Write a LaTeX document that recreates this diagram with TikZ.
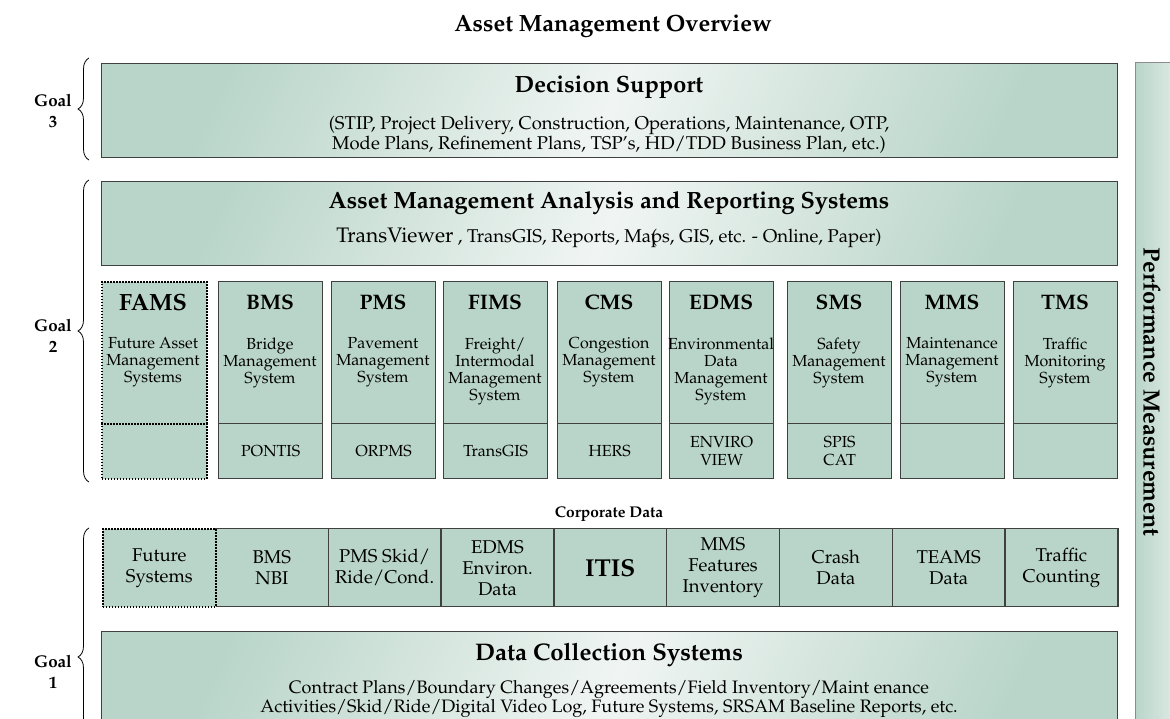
\documentclass[tikz,border=0pt]{standalone}
\usepackage[T1]{fontenc}
\usepackage{mathpazo}
\usetikzlibrary{positioning,decorations.pathreplacing}

\definecolor{sage}{RGB}{185,213,201}
\definecolor{sagelight}{RGB}{240,245,243}
\definecolor{boxline}{RGB}{64,64,64}
\newcommand{\fsz}[2]{\fontsize{#1}{#2}\selectfont}

\begin{document}
\begin{tikzpicture}[x=1pt, y=-1pt]
	\tikzstyle{panel}=[draw=boxline, line width=1.3pt, anchor=north west, inner sep=0pt,
		left color=sage, right color=sage, middle color=sagelight, shading angle=65]
	\tikzstyle{sysbox}=[draw=boxline, line width=1.3pt, fill=sage, anchor=north west, inner sep=0pt]
	\tikzstyle{futurebox}=[sysbox, draw=black, line width=1.8pt, dash pattern=on 1.5pt off 1.5pt]
	\tikzstyle{cell}=[sysbox, minimum width=112.8pt, minimum height=78pt, align=center, font=\fsz{18.5}{21}]
	\tikzstyle{goal}=[font=\fsz{17}{21}\bfseries, align=center]
	\tikzstyle{goalbrace}=[decorate, decoration={brace, amplitude=11pt}, line width=0.8pt]
	\clip (0,0) rectangle (1170,719);
	% % Nodes
	% title
	\node[font=\fsz{23.5}{26}\bfseries] (title) at (613,26) {Asset Management Overview};
	% performance measurement
	\node[draw=boxline!60, line width=1pt, anchor=north west, inner sep=0pt,
		  minimum width=60pt, minimum height=700pt,
		  left color=sage, middle color=sagelight, right color=sagelight, shading angle=90]
	(perf) at (1135,62) {};
	\node[rotate=-90, font=\fsz{23.5}{26}\bfseries] (perftext) at (1152,392) {Performance Measurement};
	% decision support
	\node[panel, minimum width=1016pt, minimum height=94pt] (decision) at (101,63) {};
	\node[font=\fsz{23.5}{26}\bfseries] (decisionhead) at (609,87) {Decision Support};
	\node[font=\fsz{18.5}{17.5}, align=center, anchor=north] (decisiontext) at (609,113)
	{
		(STIP, Project Delivery, Construction, Operations, Maintenance, OTP,\\
		Mode Plans, Refinement Plans, TSP's, HD/TDD Business Plan, etc.)
	};
	% analysis and reporting
	\node[panel, minimum width=1016pt, minimum height=84pt] (analysis) at (101,181) {};
	\node[font=\fsz{23.5}{26}\bfseries] (analysishead) at (609,203) {Asset Management Analysis and Reporting Systems};
	\node[font=\fsz{18.5}{18}] (analysistext) at (609,238)
	{{\fsz{21}{21}TransViewer} , TransGIS, Reports, Ma\rlap{(}ps, GIS, etc. - Online, Paper)};
	% future asset management systems
	\node[futurebox, minimum width=105pt, minimum height=142pt] (famsup) at (101,281) {};
	\node[futurebox, minimum width=105pt, minimum height=55pt] (famslow) at (101,423) {};
	\node[font=\fsz{23.5}{26}\bfseries] (famshead) at (153,302) {FAMS};
	\node[font=\fsz{16}{17}, align=center, anchor=north] (famsdesc) at (153,334)
	{Future Asset\\Management\\Systems};
	% management systems
	\foreach \x/\abbr/\desc/\sub [count=\i] in {
		218/BMS/{Bridge\\Management\\System}/PONTIS,
		331/PMS/{Pavement\\Management\\System}/ORPMS,
		443/FIMS/{Freight/\\Intermodal\\Management\\System}/TransGIS,
		557/CMS/{Congestion\\Management\\System}/HERS,
		669/EDMS/{Environmental\\Data\\Management\\System}/{ENVIRO\\VIEW},
		787/SMS/{Safety\\Management\\System}/{SPIS\\CAT},
		900/MMS/{Maintenance\\Management\\System}/{},
		1013/TMS/{Traffic\\Monitoring\\System}/{}}
	{
		\node[sysbox, minimum width=104pt, minimum height=142pt] (sys\i) at (\x,281) {};
		\node[sysbox, minimum width=104pt, minimum height=55pt, align=center,
			  font=\fsz{16}{18}] (sub\i) at (\x,423) {\sub};
		\node[font=\fsz{21}{23}\bfseries] (abbr\i) at (\x+52,302) {\abbr};
		\node[font=\fsz{16}{17}, align=center, anchor=north] (desc\i) at (\x+52,334) {\desc};
	}
	% corporate data
	\node[font=\fsz{15.5}{17}\bfseries] (corplabel) at (609,514) {Corporate Data};
	\foreach \txt [count=\i] in {
		{BMS\\NBI}, {PMS Skid/\\Ride/Cond.}, {EDMS\\Environ.\\Data},
		{\fsz{24.5}{26}\bfseries ITIS}, {MMS\\Features\\Inventory},
		{Crash\\Data}, {TEAMS\\Data}, {Traffic\\Counting}}
	{
		\node[cell] (corp\i) at (102+112.8*\i,528) {\txt};
	}
	\node[cell, futurebox, align=center, font=\fsz{18.5}{21}] (corp0) at (102,528) {Future\\Systems};
	% data collection
	\node[panel, minimum width=1016pt, minimum height=120pt] (collection) at (101,631) {};
	\node[font=\fsz{24}{26}\bfseries] (collectionhead) at (609,655) {Data Collection Systems};
	\node[font=\fsz{18}{18}, align=center, anchor=north] (collectiontext) at (609,677)
	{
		Contract Plans/Boundary Changes/Agreements/Field Inventory/Maint enance\\
		Activities/Skid/Ride/Digital Video Log, Future Systems, SRSAM Baseline Reports, etc.
	};
	% goals
	\node[goal] (goal3) at (53,111) {Goal\\3};
	\node[goal] (goal2) at (53,336) {Goal\\2};
	\node[goal] (goal1) at (53,672) {Goal\\1};
	% % Braces
	\draw[goalbrace] (89,160) -- (89,58);
	\draw[goalbrace] (89,482) -- (89,180);
	\draw[goalbrace] (89,786) -- (89,528);
\end{tikzpicture}
\end{document}
